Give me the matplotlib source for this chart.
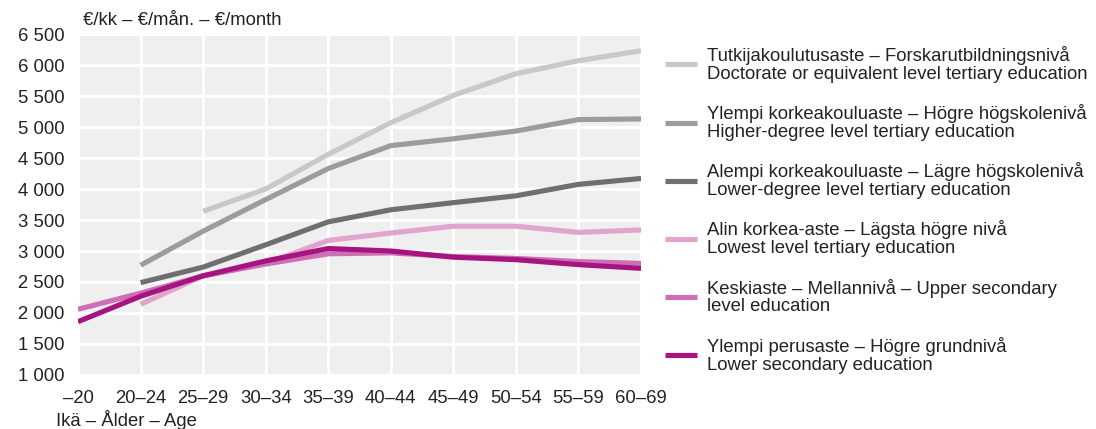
import matplotlib
matplotlib.use("Agg")
import matplotlib.pyplot as plt
from matplotlib.ticker import FuncFormatter

plt.rcParams["font.family"] = ["Liberation Sans", "DejaVu Sans"]

# age groups on the x axis
ages = ["–20", "20–24", "25–29", "30–34", "35–39", "40–44",
        "45–49", "50–54", "55–59", "60–69"]

# monthly earnings by level of education (None = no value)
doctorate = [None, None, 3640, 4000, 4560, 5070, 5510, 5860, 6070, 6230]
higher_degree = [None, 2770, 3320, 3830, 4330, 4700, 4810, 4935, 5120, 5130]
lower_degree = [None, 2490, 2740, 3100, 3470, 3665, 3780, 3890, 4075, 4170]
lowest_tertiary = [None, 2140, 2600, 2800, 3170, 3290, 3400, 3400, 3300, 3340]
upper_secondary = [2060, 2320, 2600, 2790, 2955, 2970, 2910, 2880, 2830, 2800]
lower_secondary = [1860, 2270, 2600, 2840, 3040, 3000, 2900, 2860, 2780, 2720]

labels = [
    "Tutkijakoulutusaste – Forskarutbildningsnivå\nDoctorate or equivalent level tertiary education",
    "Ylempi korkeakouluaste – Högre högskolenivå\nHigher-degree level tertiary education",
    "Alempi korkeakouluaste – Lägre högskolenivå\nLower-degree level tertiary education",
    "Alin korkea-aste – Lägsta högre nivå\nLowest level tertiary education",
    "Keskiaste – Mellannivå – Upper secondary\nlevel education",
    "Ylempi perusaste – Högre grundnivå\nLower secondary education",
]
colors = ["#c8c8c8", "#9c9c9c", "#6f6f6f", "#e1a4cd", "#cc6fb4", "#a6157f"]
series = [doctorate, higher_degree, lower_degree, lowest_tertiary,
          upper_secondary, lower_secondary]

fs = 13.3

fig = plt.figure(figsize=(10.96, 4.29), dpi=100)
ax = fig.add_axes([0.0712, 0.1259, 0.5137, 0.7948])
ax.set_facecolor("#efefef")

x = list(range(len(ages)))
for vals, col, lab in zip(series, colors, labels):
    xs = [i for i, v in zip(x, vals) if v is not None]
    ys = [v for v in vals if v is not None]
    ax.plot(xs, ys, color=col, lw=3.7, label=lab, solid_capstyle="butt")

ax.set_xlim(0, 9)
ax.set_ylim(1000, 6500)
ax.set_xticks(x)
ax.set_xticklabels(ages)
ax.set_yticks(range(1000, 6501, 500))
ax.yaxis.set_major_formatter(FuncFormatter(lambda v, p: f"{int(v):,}".replace(",", " ")))
ax.grid(True, color="white", lw=2.2)
ax.set_axisbelow(True)
for s in ax.spines.values():
    s.set_visible(False)
ax.tick_params(length=0, labelsize=fs, colors="#222222")
ax.tick_params(axis="x", pad=11)
ax.tick_params(axis="y", pad=10)

fig.text(0.0757, 0.953, "€/kk – €/mån. – €/month", fontsize=fs,
         color="#222222", va="center")
fig.text(0.051, 0.02, "Ikä – Ålder – Age", fontsize=fs,
         color="#222222", va="center")

leg = ax.legend(loc="upper left", bbox_to_anchor=(1.043, 0.965), frameon=False,
                fontsize=fs, handlelength=1.7, handletextpad=0.55,
                labelspacing=1.15, borderpad=0, borderaxespad=0)
for t in leg.get_texts():
    t.set_linespacing(1.07)
    t.set_color("#222222")
for h in leg.get_lines():
    h.set_linewidth(3.7)

fig.savefig("out.png", dpi=100)
